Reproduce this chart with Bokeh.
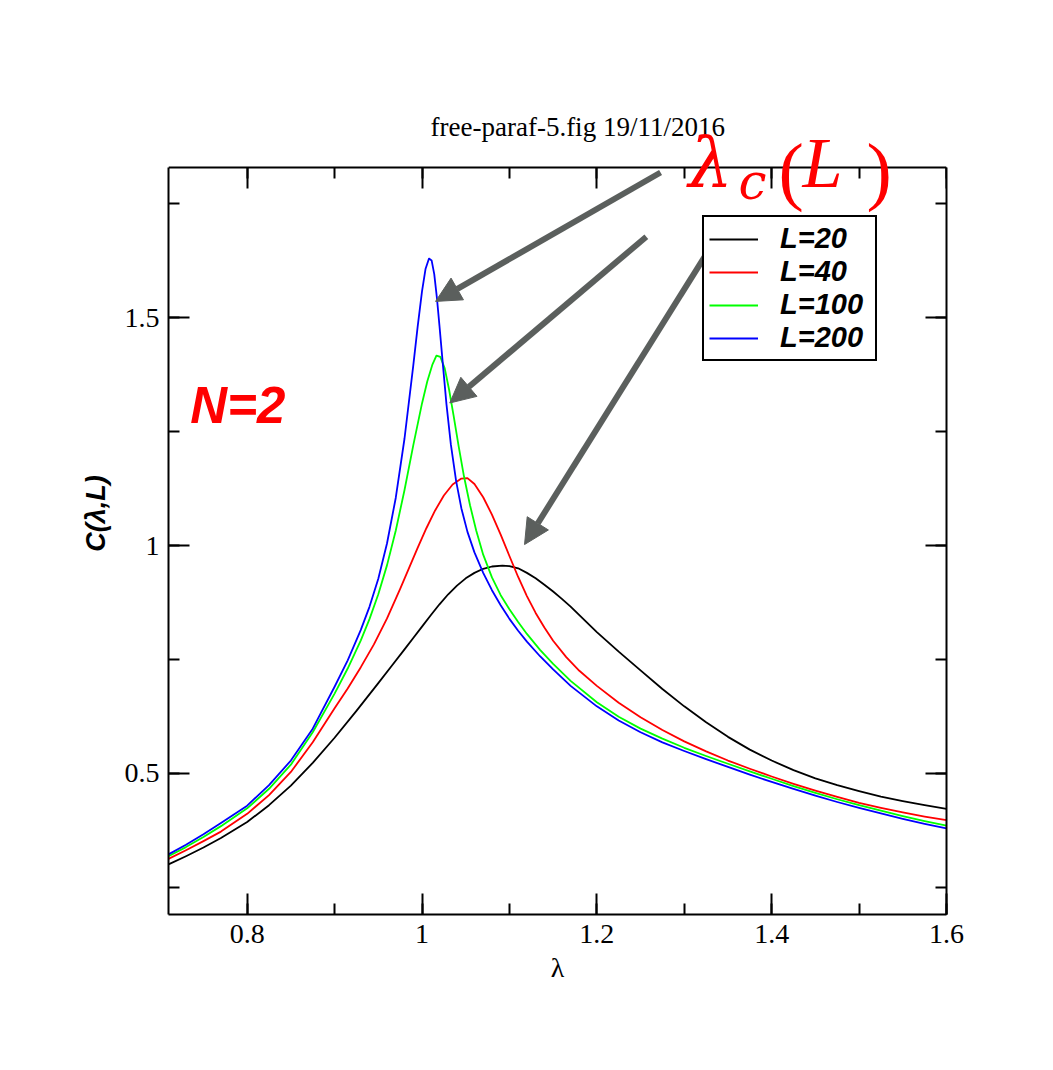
import numpy as np
from bokeh.plotting import figure
from bokeh.models import (LinearAxis, Range1d, SingleIntervalTicker, CustomJSTickFormatter,
                          Legend, LegendItem, Label, Arrow, NormalHead)
from bokeh.embed import file_html
from bokeh.resources import INLINE

# ---------------- data ----------------
title_text = "free-paraf-5.fig 19/11/2016"
series_labels = ["L=20", "L=40", "L=100", "L=200"]
series_colors = ["#000000", "#ff0000", "#00ff00", "#0000ff"]

lam_L20 = [0.71, 0.73, 0.75, 0.77, 0.80, 0.825, 0.85, 0.875, 0.90, 0.925, 0.95, 0.965, 0.98, 0.99,
           1.00, 1.01, 1.02, 1.03, 1.04, 1.05, 1.06, 1.07, 1.08, 1.092, 1.10, 1.11, 1.12, 1.13,
           1.14, 1.15, 1.16, 1.17, 1.185, 1.20, 1.225, 1.25, 1.275, 1.30, 1.325, 1.35, 1.375,
           1.40, 1.425, 1.45, 1.475, 1.50, 1.525, 1.55, 1.575, 1.60]
c_L20 = [0.300, 0.318, 0.337, 0.358, 0.393, 0.430, 0.473, 0.523, 0.578, 0.637, 0.698, 0.735, 0.772, 0.797,
         0.822, 0.847, 0.871, 0.893, 0.912, 0.928, 0.940, 0.949, 0.954, 0.956, 0.955, 0.950, 0.940, 0.928,
         0.914, 0.899, 0.883, 0.866, 0.838, 0.810, 0.767, 0.726, 0.685, 0.647, 0.612, 0.580, 0.552,
         0.528, 0.507, 0.489, 0.474, 0.461, 0.449, 0.439, 0.430, 0.422]

lam_L40 = [0.71, 0.73, 0.75, 0.77, 0.80, 0.825, 0.85, 0.875, 0.90, 0.915, 0.93, 0.945, 0.96, 0.975,
           0.985, 0.995, 1.005, 1.015, 1.025, 1.035, 1.045, 1.052, 1.06, 1.07, 1.08, 1.09, 1.10,
           1.11, 1.12, 1.13, 1.14, 1.15, 1.165, 1.18, 1.20, 1.225, 1.25, 1.275, 1.30, 1.325, 1.35,
           1.375, 1.40, 1.425, 1.45, 1.475, 1.50, 1.525, 1.55, 1.575, 1.60]
c_L40 = [0.312, 0.331, 0.351, 0.372, 0.411, 0.452, 0.503, 0.568, 0.643, 0.686, 0.733, 0.783, 0.840, 0.905,
         0.950, 0.995, 1.038, 1.077, 1.110, 1.134, 1.147, 1.148, 1.135, 1.106, 1.068, 1.024, 0.977,
         0.931, 0.889, 0.852, 0.820, 0.791, 0.755, 0.725, 0.692, 0.655, 0.623, 0.595, 0.570, 0.548, 0.528,
         0.510, 0.493, 0.477, 0.462, 0.448, 0.435, 0.424, 0.414, 0.405, 0.397]

lam_L100 = [0.71, 0.73, 0.75, 0.77, 0.80, 0.825, 0.85, 0.875, 0.90, 0.915, 0.93, 0.94, 0.95, 0.96,
            0.97, 0.98, 0.99, 1.00, 1.006, 1.012, 1.0165, 1.021, 1.026, 1.031, 1.036, 1.042, 1.048,
            1.055, 1.062, 1.07, 1.08, 1.09, 1.10, 1.11, 1.12, 1.135, 1.15, 1.17, 1.20, 1.225, 1.25,
            1.275, 1.30, 1.325, 1.35, 1.375, 1.40, 1.425, 1.45, 1.475, 1.50, 1.525, 1.55, 1.575, 1.60]
c_L100 = [0.318, 0.338, 0.360, 0.384, 0.423, 0.466, 0.519, 0.590, 0.675, 0.730, 0.792, 0.839, 0.893, 0.957,
          1.033, 1.122, 1.220, 1.312, 1.360, 1.398, 1.417, 1.414, 1.389, 1.342, 1.287, 1.217, 1.152,
          1.088, 1.033, 0.980, 0.930, 0.891, 0.860, 0.832, 0.806, 0.771, 0.740, 0.703, 0.656, 0.624, 0.598,
          0.576, 0.556, 0.538, 0.521, 0.504, 0.488, 0.472, 0.457, 0.443, 0.430, 0.418, 0.406, 0.395, 0.385]

lam_L200 = [0.71, 0.73, 0.75, 0.77, 0.80, 0.825, 0.85, 0.875, 0.90, 0.915, 0.93, 0.94, 0.95, 0.96,
            0.97, 0.98, 0.99, 0.995, 1.000, 1.004, 1.008, 1.011, 1.014, 1.017, 1.020, 1.024, 1.028,
            1.033, 1.039, 1.045, 1.052, 1.06, 1.07, 1.08, 1.09, 1.10, 1.11, 1.12, 1.135, 1.15, 1.17,
            1.20, 1.225, 1.25, 1.275, 1.30, 1.325, 1.35, 1.375, 1.40, 1.425, 1.45, 1.475, 1.50, 1.525,
            1.55, 1.575, 1.60]
c_L200 = [0.322, 0.343, 0.366, 0.391, 0.429, 0.474, 0.528, 0.598, 0.690, 0.748, 0.815, 0.866, 0.927, 1.005,
          1.105, 1.235, 1.395, 1.480, 1.558, 1.607, 1.630, 1.626, 1.596, 1.545, 1.482, 1.395, 1.310,
          1.222, 1.142, 1.082, 1.030, 0.985, 0.940, 0.902, 0.869, 0.839, 0.813, 0.789, 0.757, 0.728, 0.692,
          0.647, 0.616, 0.590, 0.568, 0.549, 0.531, 0.514, 0.497, 0.481, 0.466, 0.451, 0.437, 0.424, 0.412,
          0.400, 0.389, 0.379]

series_lam = [lam_L20, lam_L40, lam_L100, lam_L200]
series_c = [c_L20, c_L40, c_L100, c_L200]

# axis extents of the drawn box
X0, X1 = 0.71, 1.60
Y0, Y1 = 0.19, 1.83
# the plotting area runs a little above the drawn box, so the big label and the
# title line can overlap the box's top edge without being clipped
Y_TOP = 1.9507

# ---------------- figure ----------------
p = figure(width=1053, height=1070, output_backend="svg", toolbar_location=None,
           x_range=Range1d(X0, X1), y_range=Range1d(Y0, Y_TOP),
           x_axis_type=None, y_axis_type=None,
           min_border_left=168, min_border_right=107, min_border_top=112, min_border_bottom=156)
p.outline_line_color = None
p.background_fill_color = "white"
p.border_fill_color = "white"
p.xgrid.visible = False
p.ygrid.visible = False

fmt = CustomJSTickFormatter(code="return String(Math.round(tick*100)/100);")


def style_axis(ax):
    ax.axis_line_width = 2
    ax.axis_line_color = "black"
    ax.major_tick_in = 21
    ax.major_tick_out = 0
    ax.minor_tick_in = 11
    ax.minor_tick_out = 0
    ax.major_tick_line_width = 2
    ax.minor_tick_line_width = 2
    ax.major_tick_line_color = "black"
    ax.minor_tick_line_color = "black"
    ax.major_label_text_font = "Liberation Serif"
    ax.major_label_text_font_size = "28px"
    ax.major_label_text_color = "black"
    ax.axis_label_text_color = "black"
    ax.formatter = fmt


xb = LinearAxis(ticker=SingleIntervalTicker(interval=0.2, num_minor_ticks=2))
style_axis(xb)
xb.major_label_standoff = 10
xb.axis_label = "λ"
xb.axis_label_text_font = "Liberation Serif"
xb.axis_label_text_font_style = "normal"
xb.axis_label_text_font_size = "28px"
xb.axis_label_standoff = 6
p.add_layout(xb, "below")

yl = LinearAxis(ticker=SingleIntervalTicker(interval=0.5, num_minor_ticks=2), bounds=(Y0, Y1))
style_axis(yl)
yl.major_label_standoff = 9
yl.axis_label = "C(λ,L)"
yl.axis_label_text_font = "Liberation Sans"
yl.axis_label_text_font_style = "bold italic"
yl.axis_label_text_font_size = "27px"
yl.axis_label_standoff = 11
p.add_layout(yl, "left")

xt = LinearAxis(ticker=SingleIntervalTicker(interval=0.2, num_minor_ticks=2), fixed_location=Y1)
style_axis(xt)
xt.major_label_text_color = None
xt.major_label_text_font_size = "0px"
xt.major_label_standoff = 0
p.add_layout(xt, "above")

yr = LinearAxis(ticker=SingleIntervalTicker(interval=0.5, num_minor_ticks=2), bounds=(Y0, Y1))
style_axis(yr)
yr.major_label_text_color = None
yr.major_label_text_font_size = "1px"
p.add_layout(yr, "right")

renderers = []
for lam, c, col in zip(series_lam, series_c, series_colors):
    r = p.line(lam, c, line_color=col, line_width=1.8, line_join="round")
    renderers.append(r)

legend = Legend(items=[LegendItem(label=lab, renderers=[r]) for lab, r in zip(series_labels, renderers)],
                location=(534, 553), orientation="vertical",
                border_line_color="black", border_line_width=2, border_line_alpha=1.0,
                background_fill_color="white", background_fill_alpha=1.0,
                label_text_font="Liberation Sans", label_text_font_style="bold italic",
                label_text_font_size="29px", label_text_color="black",
                glyph_width=49, glyph_height=20, label_standoff=22, padding=5, spacing=0,
                label_width=90, label_height=20, margin=0)
p.add_layout(legend, "center")

# title line (screen units measured from the plotting area's bottom-left corner)
p.add_layout(Label(x=262, y=788, x_units="screen", y_units="screen", text=title_text,
                   text_color="black", text_font="Liberation Serif", text_font_style="normal",
                   text_font_size="27px", text_baseline="alphabetic", level="overlay"))

p.add_layout(Label(x=0.735, y=1.308, text="N=2", text_color="#ff0000",
                   text_font="Liberation Sans", text_font_style="bold italic",
                   text_font_size="51px", text_baseline="alphabetic", level="overlay"))

red = "#ff0000"


def red_label(x, y, text, font, style, size):
    p.add_layout(Label(x=x, y=y, x_units="screen", y_units="screen", text=text, text_color=red,
                       text_font=font, text_font_style=style, text_font_size=size,
                       text_baseline="alphabetic", level="overlay"))


red_label(520, 752, "λ", "DejaVu Serif", "italic", "70px")
red_label(570, 733, "c", "DejaVu Serif", "italic", "50px")
red_label(610, 745, "(", "Liberation Serif", "normal", "76px")
red_label(634, 752, "L", "Liberation Serif", "italic", "72px")
red_label(698, 745, ")", "Liberation Serif", "normal", "76px")

gray = "#5b5f5d"
for xs, ys, xe, ye in [(1.2729, 1.819, 1.0155, 1.536),
                       (1.2566, 1.678, 1.0318, 1.313),
                       (1.3408, 1.6877, 1.1173, 1.0022)]:
    p.add_layout(Arrow(end=NormalHead(size=25, fill_color=gray, line_color=gray, line_width=1),
                       x_start=xs, y_start=ys, x_end=xe, y_end=ye,
                       line_width=6, line_color=gray, level="overlay"))

open("out.html", "w").write(file_html(p, INLINE))
